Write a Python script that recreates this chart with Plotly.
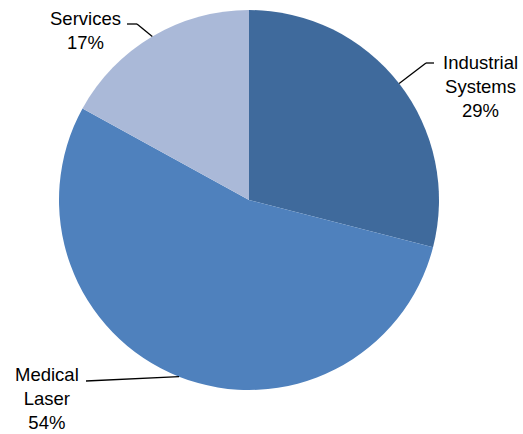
import math
import plotly.graph_objects as go

categories = ["Industrial<br>Systems", "Medical<br>Laser", "Services"]
values = [29, 54, 17]
colors = ["#3F6A9C", "#4F81BD", "#AAB9D8"]

W, H = 523, 434
CX, CY, R = 249, 200, 190

# label layout (style): text center and elbow point in pixels
label_style = [
    dict(text_xy=(480, 86), elbow=(426, 63), end=(434, 63)),
    dict(text_xy=(47, 398), elbow=(86, 381), end=(86, 381)),
    dict(text_xy=(85, 31), elbow=(137, 24), end=(127, 24)),
]

fig = go.Figure(go.Pie(
    labels=[c.replace("<br>", " ") for c in categories],
    values=values,
    marker=dict(colors=colors, line=dict(width=0)),
    sort=False,
    direction="clockwise",
    rotation=0,
    textinfo="none",
    hoverinfo="label+percent",
    domain=dict(x=[(CX - R) / W, (CX + R) / W],
                y=[(H - CY - R) / H, (H - CY + R) / H]),
    showlegend=False,
))

def px(x):
    return x / W

def py(y):
    return 1 - y / H

total = sum(values)
cum = 0
annotations = []
shapes = []
for cat, v, st in zip(categories, values, label_style):
    mid = (cum + v / 2) / total * 2 * math.pi
    cum += v
    ex = CX + R * math.sin(mid)
    ey = CY - R * math.cos(mid)
    pct = round(v / total * 100)
    tx, ty = st["text_xy"]
    annotations.append(dict(
        x=px(tx), y=py(ty), xref="paper", yref="paper",
        text=f"{cat}<br>{pct}%", showarrow=False,
        xanchor="center", yanchor="middle", align="center",
        font=dict(family="Liberation Sans, Arial", size=18.5, color="#000000"),
    ))
    bx, by = st["elbow"]
    fx, fy = st["end"]
    for (x0, y0, x1, y1) in [(ex, ey, bx, by), (bx, by, fx, fy)]:
        shapes.append(dict(type="line", xref="paper", yref="paper",
                           x0=px(x0), y0=py(y0), x1=px(x1), y1=py(y1),
                           line=dict(color="#000000", width=1.3)))

fig.update_layout(
    width=W, height=H,
    margin=dict(l=0, r=0, t=0, b=0),
    paper_bgcolor="white", plot_bgcolor="white",
    annotations=annotations, shapes=shapes,
)

fig.write_html("out.html")
